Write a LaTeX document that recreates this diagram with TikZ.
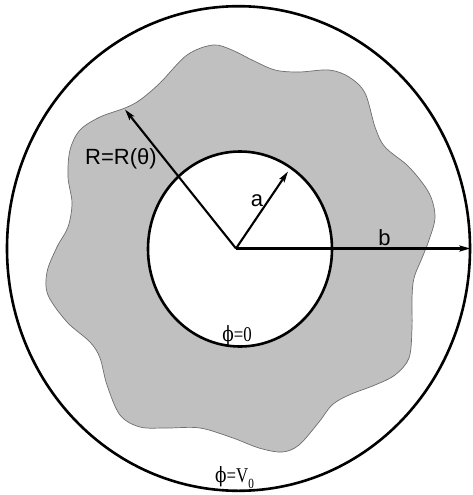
\documentclass[tikz,border=0pt]{standalone}
\usepackage{fontspec}
\usepackage{graphicx}
\setmainfont{Liberation Sans}
\newfontfamily\serf{Liberation Serif}
\newfontfamily\phif{DejaVu Serif}
\usetikzlibrary{arrows.meta}
\definecolor{shade}{RGB}{192,192,192}
\definecolor{edge}{RGB}{110,110,110}
\begin{document}
\begin{tikzpicture}[x=1pt,y=-1pt,
  rim/.style={line width=2.6pt},
  radiusarrow/.style={line width=2.1pt,-{Stealth[length=11pt,width=6pt,inset=2pt]}},
  sanslabel/.style={font=\fontsize{22}{26}\selectfont, inner sep=0pt},
  potlabel/.style={font=\serf\fontsize{21}{25}\selectfont, inner sep=0pt}]
\useasboundingbox (0,0) rectangle (472,495);
% wavy region R = R(theta)
\filldraw[fill=shade, draw=edge, line width=0.7pt]
  plot[smooth cycle, tension=0.55] coordinates {
  (187,55) (213,45) (232,50) (252,60) (275,70) (299,72) (329,70) (349,77)
  (365,93) (375,127) (385,147) (409,167) (429,193) (435,217) (429,240)
  (422,258) (414,278) (412,298) (412,328) (409,358) (395,375) (375,385)
  (349,395) (332,405) (319,422) (299,445) (282,452) (259,448) (233,438)
  (200,428) (167,428) (140,427) (120,415) (107,385) (100,358) (90,342)
  (67,322) (48,295) (47,272) (57,247) (68,227) (72,203) (68,177) (70,150)
  (80,130) (100,117) (125,108) (140,100) (160,83)};
% inner conductor
\filldraw[rim, fill=white] (240,249) ellipse [x radius=92, y radius=97.5];
% outer conductor
\draw[rim] (238.5,248.5) ellipse [x radius=231.5, y radius=242.3];
% radii
\coordinate (O) at (236,248.5);
\coordinate (Rtip) at (125,109.5);
\coordinate (atip) at (288,171.5);
\coordinate (btip) at (470.5,248.5);
\draw[radiusarrow] (O) -- (Rtip);
\draw[radiusarrow] (O) -- (atip);
\draw[radiusarrow] (O) -- (btip);
% labels
\node[sanslabel, anchor=base west] (Rlab) at (85,164) {R=R(θ)};
\node[sanslabel, anchor=base] (alab) at (257,206) {a};
\node[sanslabel, anchor=base] (blab) at (384.5,245) {b};
\node[potlabel, anchor=base] (innerlab) at (237,341.5) {\scalebox{0.8}[1]{{\phif ϕ}=0}};
\node[potlabel, anchor=base west] (outerlab) at (215,482) {\scalebox{0.8}[1]{{\phif ϕ}=V\raisebox{-6pt}{\fontsize{14}{14}\selectfont 0}}};
\end{tikzpicture}
\end{document}
